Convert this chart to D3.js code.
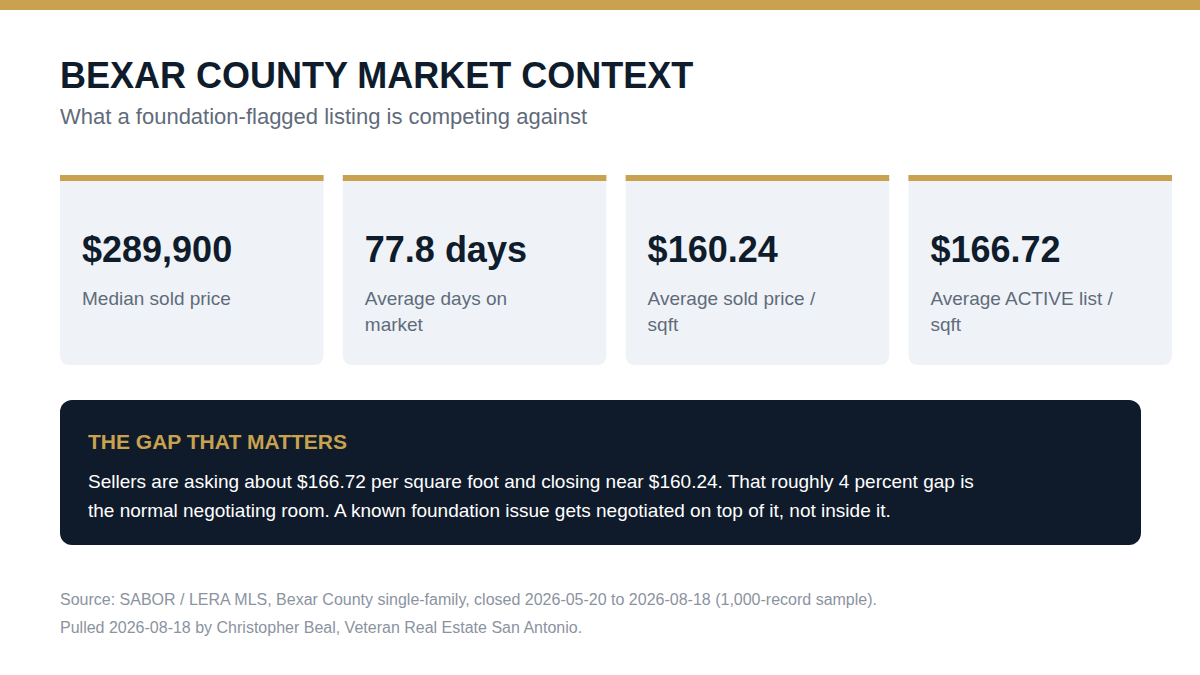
<!DOCTYPE html>
<html><head><meta charset="utf-8">
<script src="https://cdn.jsdelivr.net/npm/d3@7"></script>
<style>body{margin:0;background:#fff}svg{display:block;font-family:"Liberation Sans",Arial,sans-serif}</style>
</head><body><svg id="chart" width="1200" height="675"></svg>
<script>
// KPI cards and callout for the Bexar County market summary
const kpiValues = ["$289,900", "77.8 days", "$160.24", "$166.72"];
const kpiLabels = [["Median sold price"], ["Average days on", "market"], ["Average sold price /", "sqft"], ["Average ACTIVE list /", "sqft"]];
const calloutTitle = "THE GAP THAT MATTERS";
const calloutLines = [
  "Sellers are asking about $166.72 per square foot and closing near $160.24. That roughly 4 percent gap is",
  "the normal negotiating room. A known foundation issue gets negotiated on top of it, not inside it."
];
const sourceLines = [
  "Source: SABOR / LERA MLS, Bexar County single-family, closed 2026-05-20 to 2026-08-18 (1,000-record sample).",
  "Pulled 2026-08-18 by Christopher Beal, Veteran Real Estate San Antonio."
];

const gold = "#c8a24f", navy = "#0f1c2c", grey = "#5f6b7a";
const svg = d3.select("#chart");

svg.append("rect").attr("width", 1200).attr("height", 10).attr("fill", gold);
svg.append("text").attr("x", 60).attr("y", 88).attr("font-size", 36).attr("font-weight", 700)
  .attr("fill", navy).text("BEXAR COUNTY MARKET CONTEXT");
svg.append("text").attr("x", 60).attr("y", 124).attr("font-size", 22).attr("fill", grey)
  .text("What a foundation-flagged listing is competing against");

const x = d3.scaleBand().domain(d3.range(kpiValues.length)).range([60, 1172]).paddingInner(0.068);
const cardTop = 175, cardH = 190, r = 10, w = x.bandwidth();

const cards = svg.selectAll(".card").data(kpiValues).join("g").attr("class", "card")
  .attr("transform", (d, i) => `translate(${x(i)},${cardTop})`);
cards.append("path").attr("fill", "#eff3f8")
  .attr("d", `M0,0H${w}V${cardH - r}Q${w},${cardH} ${w - r},${cardH}H${r}Q0,${cardH} 0,${cardH - r}Z`);
cards.append("rect").attr("width", w).attr("height", 6).attr("fill", gold);
cards.append("text").attr("x", 22).attr("y", 87).attr("font-size", 36).attr("font-weight", 700)
  .attr("fill", navy).text(d => d);
cards.append("text").attr("x", 22).attr("y", 130).attr("font-size", 19).attr("fill", grey)
  .selectAll("tspan").data((d, i) => kpiLabels[i]).join("tspan")
  .attr("x", 22).attr("dy", (d, i) => i ? 26 : 0).text(d => d);

const box = svg.append("g").attr("transform", "translate(60,400)");
box.append("rect").attr("width", 1081).attr("height", 145).attr("rx", 12).attr("fill", "#0f1b2b");
box.append("text").attr("x", 28).attr("y", 49).attr("font-size", 21).attr("font-weight", 700)
  .attr("fill", gold).text(calloutTitle);
box.append("text").attr("font-size", 19).attr("fill", "#fff")
  .selectAll("tspan").data(calloutLines).join("tspan")
  .attr("x", 28).attr("y", (d, i) => 88 + i * 29).text(d => d);

svg.append("text").attr("font-size", 16).attr("fill", "#8b93a0")
  .selectAll("tspan").data(sourceLines).join("tspan")
  .attr("x", 60).attr("y", (d, i) => 605 + i * 28).text(d => d);
</script></body></html>
